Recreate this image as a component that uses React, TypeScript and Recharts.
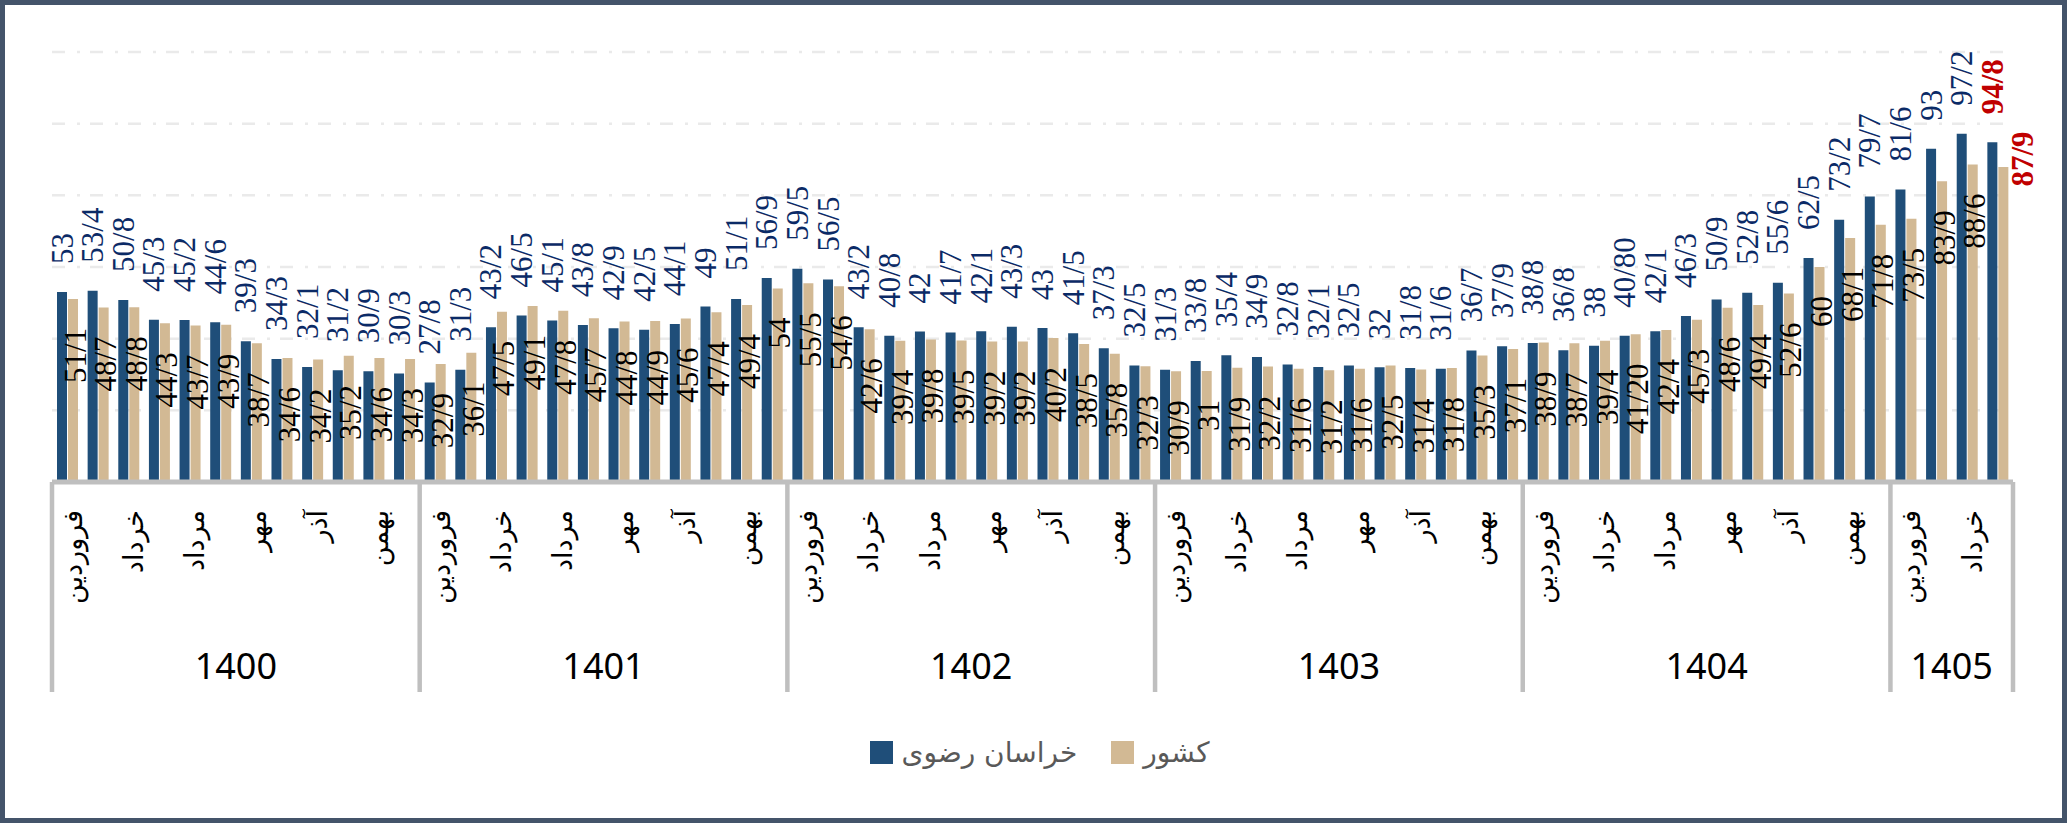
import React from "react";
import { BarChart, Bar, XAxis, YAxis, CartesianGrid, LabelList } from "recharts";

// years and how many months each one has in the chart
const years = ["1400", "1401", "1402", "1403", "1404", "1405"];
const monthsPerYear = [12, 12, 12, 12, 12, 4];

const monthNames = [
  "فروردین", "اردیبهشت", "خرداد", "تیر", "مرداد", "شهریور",
  "مهر", "آبان", "آذر", "دی", "بهمن", "اسفند",
];

// labels as printed on the chart ("/" is the decimal separator)
const khorasanText = [
  "53", "53/4", "50/8", "45/3", "45/2", "44/6", "39/3", "34/3", "32/1", "31/2", "30/9", "30/3",
  "27/8", "31/3", "43/2", "46/5", "45/1", "43/8", "42/9", "42/5", "44/1", "49", "51/1", "56/9",
  "59/5", "56/5", "43/2", "40/8", "42", "41/7", "42/1", "43/3", "43", "41/5", "37/3", "32/5",
  "31/3", "33/8", "35/4", "34/9", "32/8", "32/1", "32/5", "32", "31/8", "31/6", "36/7", "37/9",
  "38/8", "36/8", "38", "40/80", "42/1", "46/3", "50/9", "52/8", "55/6", "62/5", "73/2", "79/7",
  "81/6", "93", "97/2", "94/8",
];

const countryText = [
  "51/1", "48/7", "48/8", "44/3", "43/7", "43/9", "38/7", "34/6", "34/2", "35/2", "34/6", "34/3",
  "32/9", "36/1", "47/5", "49/1", "47/8", "45/7", "44/8", "44/9", "45/6", "47/4", "49/4", "54",
  "55/5", "54/6", "42/6", "39/4", "39/8", "39/5", "39/2", "39/2", "40/2", "38/5", "35/8", "32/3",
  "30/9", "31", "31/9", "32/2", "31/6", "31/2", "31/6", "32/5", "31/4", "31/8", "35/3", "37/1",
  "38/9", "38/7", "39/4", "41/20", "42/4", "45/3", "48/6", "49/4", "52/6", "60", "68/1", "71/8",
  "73/5", "83/9", "88/6", "87/9",
];

const yTicks = [0, 20, 40, 60, 80, 100, 120];

const seriesNames = ["خراسان رضوی", "کشور"];
const seriesColors = ["#1F4E79", "#D2B994"];

const toNum = (s: string) => parseFloat(s.replace("/", "."));

const data: any[] = [];
years.forEach((year, yi) => {
  for (let m = 0; m < monthsPerYear[yi]; m++) {
    const i = data.length;
    data.push({
      key: year + "-" + m,
      year,
      month: m,
      monthName: monthNames[m],
      groupSize: monthsPerYear[yi],
      khorasan: toNum(khorasanText[i]),
      country: toNum(countryText[i]),
      kLabel: khorasanText[i],
      cLabel: countryText[i],
    });
  }
});

const W = 2067;
const H = 823;
const PLOT_LEFT = 52;
const PLOT_RIGHT = 2013;
const PLOT_TOP = 52;
const PLOT_BOTTOM = 482;
const AXIS_H = 30;
const BOX_BOTTOM = 692;
const bandW = (PLOT_RIGHT - PLOT_LEFT) / data.length;
const lastIndex = data.length - 1;

const LINE = "#BFBFBF";
const NAVY = "#0B2A66";
const RED = "#C00000";
const serif = "'Times New Roman', 'Liberation Serif', 'DejaVu Serif', serif";
const persian = "'DejaVu Sans', sans-serif";

const CategoryTick = (props: any) => {
  const { x, index } = props;
  const d = data[index];
  if (!d) return null;
  const left = x - bandW / 2;
  const mid = Math.floor((d.groupSize - 1) / 2);
  return (
    <g>
      {d.month === 0 && (
        <line x1={left} x2={left} y1={PLOT_BOTTOM} y2={BOX_BOTTOM} stroke={LINE} strokeWidth={4.5} />
      )}
      {index === lastIndex && (
        <line x1={x + bandW / 2} x2={x + bandW / 2} y1={PLOT_BOTTOM} y2={BOX_BOTTOM} stroke={LINE} strokeWidth={4.5} />
      )}
      {d.month % 2 === 0 && (
        <text
          transform={`translate(${x + 5}, 510) rotate(-90)`}
          textAnchor="end"
          dominantBaseline="central"
          style={{ fontFamily: persian, fontSize: 27 }}
          fill="#000"
        >
          {d.monthName}
        </text>
      )}
      {d.month === mid && (
        <text
          x={x + (d.groupSize % 2 === 0 ? bandW / 2 : 0)}
          y={665}
          textAnchor="middle"
          dominantBaseline="central"
          style={{ fontFamily: "'Noto Sans', sans-serif", fontSize: 36 }}
          fill="#000"
        >
          {d.year}
        </text>
      )}
    </g>
  );
};

const KhorasanLabel = (props: any) => {
  const { x, y, width, value, index } = props;
  const last = index === lastIndex;
  const cx = x + width / 2;
  return (
    <text
      transform={`translate(${cx}, ${y - 28}) rotate(-90)`}
      textAnchor="start"
      dominantBaseline="central"
      style={{ fontFamily: serif, fontSize: 31, fontWeight: last ? 700 : 400 }}
      fill={last ? RED : NAVY}
    >
      {value}
    </text>
  );
};

const CountryLabel = (props: any) => {
  const { x, y, width, value, index } = props;
  const cx = x + width / 2;
  if (index === lastIndex) {
    return (
      <text
        transform={`translate(${cx + 19}, ${y - 8}) rotate(-90)`}
        textAnchor="middle"
        dominantBaseline="central"
        style={{ fontFamily: serif, fontSize: 31, fontWeight: 700 }}
        fill={RED}
      >
        {value}
      </text>
    );
  }
  return (
    <text
      transform={`translate(${cx + 2}, ${y + 29}) rotate(-90)`}
      textAnchor="end"
      dominantBaseline="central"
      style={{ fontFamily: serif, fontSize: 31 }}
      fill="#000"
    >
      {value}
    </text>
  );
};

export default function App() {
  return (
    <div style={{ position: "absolute", left: 0, top: 0, width: W, height: H, background: "#fff" }}>
      <BarChart
        width={W}
        height={H}
        data={data}
        barSize={10}
        barGap={1}
        margin={{ top: PLOT_TOP, right: W - PLOT_RIGHT, bottom: H - PLOT_BOTTOM - AXIS_H, left: PLOT_LEFT }}
      >
        <CartesianGrid
          vertical={false}
          stroke="#EAEAEA"
          strokeWidth={2.5}
          strokeDasharray="13 12 3 10"
        />
        <YAxis hide domain={[0, 120]} ticks={yTicks} />
        <XAxis
          dataKey="key"
          height={AXIS_H}
          interval={0}
          tickLine={false}
          axisLine={{ stroke: LINE, strokeWidth: 5 }}
          tick={<CategoryTick />}
        />
        <Bar dataKey="khorasan" name={seriesNames[0]} fill={seriesColors[0]} isAnimationActive={false}>
          <LabelList dataKey="kLabel" content={<KhorasanLabel />} />
        </Bar>
        <Bar dataKey="country" name={seriesNames[1]} fill={seriesColors[1]} isAnimationActive={false}>
          <LabelList dataKey="cLabel" content={<CountryLabel />} />
        </Bar>
      </BarChart>

      {/* legend */}
      <div
        style={{
          position: "absolute",
          top: 736,
          left: 6,
          width: W,
          display: "flex",
          justifyContent: "center",
          alignItems: "center",
          fontFamily: persian,
          fontSize: 28,
          color: "#595959",
        }}
      >
        {seriesNames.map((name, i) => (
          <div key={name} style={{ display: "flex", alignItems: "center", marginRight: i === 0 ? 34 : 0 }}>
            <span style={{ width: 23, height: 23, background: seriesColors[i], display: "inline-block", marginRight: 9 }} />
            <span>{name}</span>
          </div>
        ))}
      </div>

      {/* outer frame */}
      <div
        style={{
          position: "absolute",
          inset: 0,
          border: "5px solid #44546A",
          pointerEvents: "none",
        }}
      />
    </div>
  );
}
